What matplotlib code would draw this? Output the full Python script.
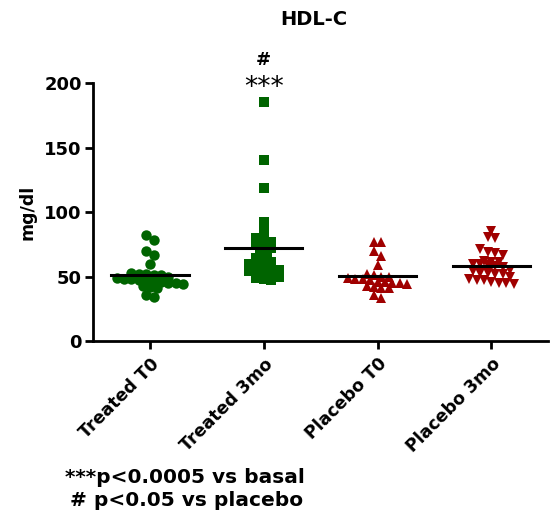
import numpy as np
import matplotlib
matplotlib.use("Agg")
import matplotlib.pyplot as plt

plt.rcParams['font.family'] = ['DejaVu Sans']
plt.rcParams['font.weight'] = 'bold'

groups = ['Treated T0', 'Treated 3mo', 'Placebo T0', 'Placebo 3mo']
treated_t0 = [82, 78, 70, 67, 60, 53, 52, 52, 51, 51, 50, 49, 48, 48, 47, 47,
              46, 46, 45, 45, 44, 43, 42, 41, 36, 34]
treated_3mo = [185, 140, 119, 92, 87, 80, 79, 77, 75, 74, 72, 70, 66, 64, 62,
               61, 60, 58, 57, 56, 55, 54, 53, 52, 51, 50, 49, 48, 47]
placebo_t0 = [77, 77, 70, 66, 59, 52, 51, 50, 50, 49, 48, 48, 47, 46, 46, 45,
              45, 44, 43, 42, 41, 41, 36, 33]
placebo_3mo = [85, 81, 80, 71, 69, 68, 67, 62, 61, 61, 60, 60, 59, 58, 57, 55,
               54, 53, 53, 52, 52, 50, 48, 47, 47, 46, 45, 45, 44]
series = [treated_t0, treated_3mo, placebo_t0, placebo_3mo]

green = '#006400'
red = '#a00000'
styles = [(green, 'o', 7.5), (green, 's', 6.8), (red, '^', 7.8), (red, 'v', 7.8)]


def swarm(vals, binw=5.5, dx=0.065):
    # spread points sideways inside value bins, like a column scatter plot
    vals = np.asarray(vals, dtype=float)
    offs = np.zeros(len(vals))
    bins = np.floor(vals / binw)
    for b in np.unique(bins):
        idx = np.where(bins == b)[0]
        k = len(idx)
        offs[idx] = (np.arange(k) - (k - 1) / 2) * dx
    return offs


fig = plt.figure(figsize=(5.52, 5.18), dpi=100)
ax = fig.add_axes([0.1685, 0.3417, 0.825, 0.498])

for i, vals in enumerate(series):
    col, mk, ms = styles[i]
    x = i + swarm(vals)
    ax.plot(x, vals, linestyle='none', marker=mk, color=col, markersize=ms,
            markeredgewidth=0, clip_on=False, zorder=3)
    m = np.mean(vals)
    ax.plot([i - 0.34, i + 0.34], [m, m], color='black', lw=2.2, zorder=4)

ax.set_xlim(-0.5, 3.5)
ax.set_ylim(0, 200)
ax.set_yticks([0, 50, 100, 150, 200])
ax.set_xticks(range(len(groups)))
ax.set_xticklabels(groups, rotation=45, ha='right', rotation_mode='anchor',
                   fontsize=12.5, fontweight='bold')
ax.tick_params(axis='y', labelsize=13, width=2, length=6, pad=2)
ax.tick_params(axis='x', width=2, length=6, pad=4)
for lab in ax.get_yticklabels():
    lab.set_fontweight('bold')
for s in ['top', 'right']:
    ax.spines[s].set_visible(False)
for s in ['left', 'bottom']:
    ax.spines[s].set_linewidth(2)

ax.set_ylabel('mg/dl', fontsize=12.5, fontweight='bold', labelpad=6)

ax.text(1, 196, '***', ha='center', va='center', fontsize=19,
        fontweight='normal', clip_on=False)
ax.text(1, 218, '#', ha='center', va='center', fontsize=13,
        fontweight='bold', clip_on=False)

fig.text(0.569, 0.962, 'HDL-C', ha='center', va='center', fontsize=14,
         fontweight='bold')
fig.text(0.118, 0.079, '***p<0.0005 vs basal', ha='left', va='center',
         fontsize=14.5, fontweight='bold')
fig.text(0.127, 0.034, '# p<0.05 vs placebo', ha='left', va='center',
         fontsize=14.5, fontweight='bold')

fig.savefig('out.png', dpi=100)
